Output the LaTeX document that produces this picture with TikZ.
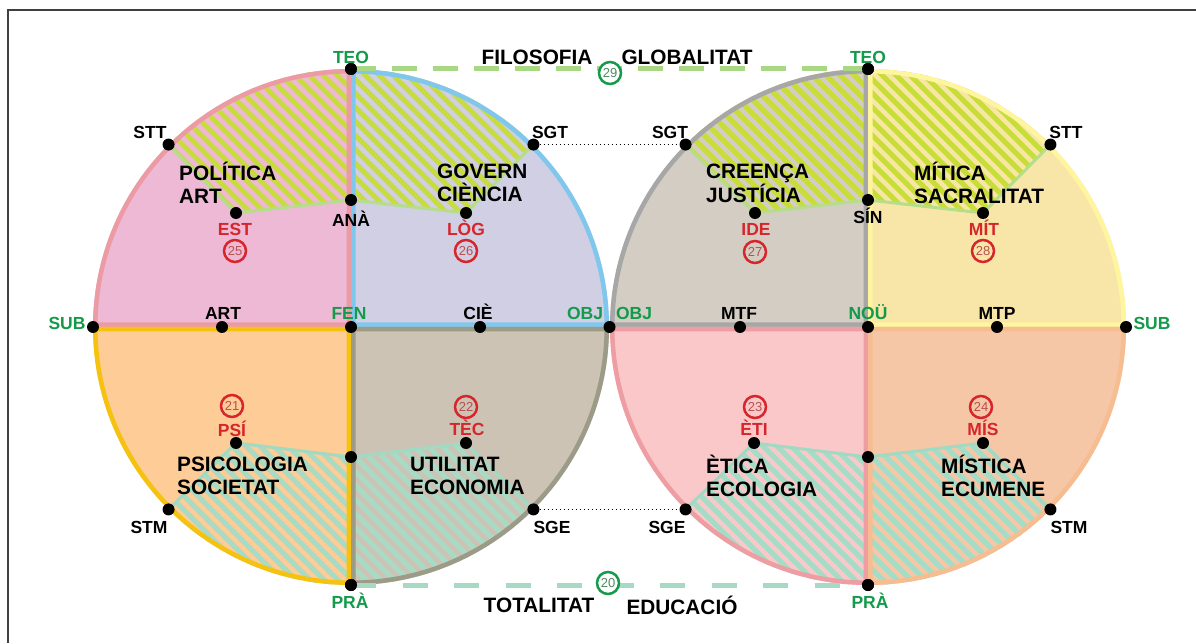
\documentclass[tikz,border=0pt]{standalone}
\usepackage{fontspec}
\setmainfont{Liberation Sans}
\usetikzlibrary{calc}
\definecolor{fLTL}{HTML}{EDB9D5}\definecolor{bLTL}{HTML}{EC9BA5}
\definecolor{fLTR}{HTML}{D1CFE3}\definecolor{bLTR}{HTML}{80C7EE}
\definecolor{fLBL}{HTML}{FDCC97}\definecolor{bLBL}{HTML}{F4C20F}
\definecolor{fLBR}{HTML}{CDC3B5}\definecolor{bLBR}{HTML}{9B9B87}
\definecolor{fRTL}{HTML}{D4CDC4}\definecolor{bRTL}{HTML}{A7A7A7}
\definecolor{fRTR}{HTML}{F8E6A8}\definecolor{bRTR}{HTML}{FFF59E}
\definecolor{fRBL}{HTML}{FBC8C9}\definecolor{bRBL}{HTML}{EE9DA3}
\definecolor{fRBR}{HTML}{F6C7A7}\definecolor{bRBR}{HTML}{F6BD90}
\definecolor{hatchY}{HTML}{C8DC3C}\definecolor{hbY}{HTML}{B6DD8A}
\definecolor{hatchM}{HTML}{A6DBC5}\definecolor{hbM}{HTML}{A2D9C2}
\definecolor{lblgreen}{HTML}{149A4B}\definecolor{lblred}{HTML}{D6262B}
\definecolor{numred}{HTML}{B85050}\definecolor{numgreen}{HTML}{4E8A62}
\definecolor{dashG}{HTML}{A9D884}\definecolor{dashM}{HTML}{A8D9C5}
\definecolor{frame}{HTML}{404040}
\begin{document}
\begin{tikzpicture}[x=1pt,y=1pt,
  dot/.style={circle,fill=black,minimum size=12,inner sep=0},
  lbl/.style={font=\fontsize{17.5}{18}\selectfont\bfseries,inner sep=0},
  glbl/.style={lbl,text=lblgreen},
  rlbl/.style={lbl,text=lblred},
  big/.style={font=\fontsize{20.8}{22.5}\selectfont\bfseries,inner sep=0,align=left,anchor=west},
  title/.style={font=\fontsize{20.8}{22.5}\selectfont\bfseries,inner sep=0},
  numr/.style={circle,draw=lblred,line width=2.5,minimum size=22,inner sep=0,font=\fontsize{13}{13}\selectfont,text=numred},
  numg/.style={circle,draw=lblgreen,fill=white,line width=2.5,minimum size=22,inner sep=0,font=\fontsize{13}{13}\selectfont,text=numgreen},
  topdash/.style={dashG,line width=5,dash pattern=on 25pt off 16pt},
  botdash/.style={dashM,line width=5,dash pattern=on 25pt off 26.5pt},
  dotline/.style={black,line width=1.3,dash pattern=on 1.5pt off 2.5pt}]
\useasboundingbox (0,0) rectangle (1196,643);
\fill[white] (0,0) rectangle (1196,643);
\draw[frame,line width=1.5] (8,0) -- (8,633) -- (1196,633);

\coordinate (C1) at (351,316);
\coordinate (C2) at (868,316);
\coordinate (cEST) at (236,430);
\coordinate (cANA) at (351,443);
\coordinate (cLOG) at (466,430);
\coordinate (cPSI) at (236,200);
\coordinate (cMIDa) at (351,186);
\coordinate (cTEC) at (466,200);
\coordinate (cIDE) at (755,430);
\coordinate (cSIN) at (868,443);
\coordinate (cMIT) at (983,430);
\coordinate (cETI) at (754,200);
\coordinate (cMIDb) at (868,186);
\coordinate (cMIS) at (983,200);

\foreach \cc/\sa/\ea/\fcol/\bcol/\hcol/\hbcol/\hA/\hP/\hQ/\hB in {
 C1/90/180/fLTL/bLTL/hatchY/hbY/135/cEST/cANA/90,
 C1/0/90/fLTR/bLTR/hatchY/hbY/90/cANA/cLOG/45,
 C1/180/270/fLBL/bLBL/hatchM/hbM/225/cPSI/cMIDa/270,
 C1/270/360/fLBR/bLBR/hatchM/hbM/270/cMIDa/cTEC/315,
 C2/90/180/fRTL/bRTL/hatchY/hbY/135/cIDE/cSIN/90,
 C2/0/90/fRTR/bRTR/hatchY/hbY/90/cSIN/cMIT/45,
 C2/180/270/fRBL/bRBL/hatchM/hbM/225/cETI/cMIDb/270,
 C2/270/360/fRBR/bRBR/hatchM/hbM/270/cMIDb/cMIS/315}
{
 \begin{scope}
  \clip (\cc) -- ($(\cc)+(\sa:258)$) arc[start angle=\sa, end angle=\ea, radius=258] -- cycle;
  \fill[\fcol] ($(\cc)+(-262,-262)$) rectangle ($(\cc)+(262,262)$);
  \begin{scope}
   \clip ($(\cc)+(\hA:258)$) -- (\hP) -- (\hQ) -- ($(\cc)+(\hB:258)$) arc[start angle=\hB, end angle=\hA, radius=258] -- cycle;
   \foreach \k in {-28,...,28}
     \draw[\hcol, line width=5] ($(\cc)+(14*\k,0)+(-300,300)$) -- ++(600,-600);
  \end{scope}
  \draw[\hbcol, line width=3, line join=round] ($(\cc)+(\hA:258)$) -- (\hP) -- (\hQ) -- ($(\cc)+(\hB:258)$);
  \draw[\bcol, line width=9] (\cc) -- ($(\cc)+(\sa:258)$) arc[start angle=\sa, end angle=\ea, radius=258] -- cycle;
 \end{scope}
}

% dots
\node[dot] (lTEO) at ($(C1)+(90:258)$) {};
\node[dot] (lSTT) at ($(C1)+(135:258)$) {};
\node[dot] (lSGT) at ($(C1)+(45:258)$) {};
\node[dot] (lSUB) at ($(C1)+(180:258)$) {};
\node[dot] (OBJ) at (609.5,316) {};
\node[dot] (lSTM) at ($(C1)+(225:258)$) {};
\node[dot] (lSGE) at ($(C1)+(315:258)$) {};
\node[dot] (lPRA) at ($(C1)+(270:258)$) {};
\node[dot] (FEN) at (C1) {};
\node[dot] (ART) at (222,316) {};
\node[dot] (CIE) at (480,316) {};
\node[dot] (EST) at (cEST) {};
\node[dot] (ANA) at (cANA) {};
\node[dot] (LOG) at (cLOG) {};
\node[dot] (PSI) at (cPSI) {};
\node[dot] (MIDa) at (cMIDa) {};
\node[dot] (TEC) at (cTEC) {};
\node[dot] (rTEO) at ($(C2)+(90:258)$) {};
\node[dot] (rSGT) at ($(C2)+(135:258)$) {};
\node[dot] (rSTT) at ($(C2)+(45:258)$) {};
\node[dot] (rSUB) at ($(C2)+(0:258)$) {};
\node[dot] (rSGE) at ($(C2)+(225:258)$) {};
\node[dot] (rSTM) at ($(C2)+(315:258)$) {};
\node[dot] (rPRA) at ($(C2)+(270:258)$) {};
\node[dot] (NOU) at (C2) {};
\node[dot] (MTF) at (740,316) {};
\node[dot] (MTP) at (997,316) {};
\node[dot] (IDE) at (cIDE) {};
\node[dot] (SIN) at (cSIN) {};
\node[dot] (MIT) at (cMIT) {};
\node[dot] (ETI) at (cETI) {};
\node[dot] (MIDb) at (cMIDb) {};
\node[dot] (MIS) at (cMIS) {};

% connectors
\draw[topdash] (lTEO.center) -- (rTEO.center);
\draw[botdash] (lPRA.center) -- (rPRA.center);
\draw[dotline] (lSGT) -- (rSGT);
\draw[dotline] (lSGE) -- (rSGE);
% end dots kept on top of the dashed lines
\node[dot] at (lTEO) {};
\node[dot] at (rTEO) {};
\node[dot] at (lPRA) {};
\node[dot] at (rPRA) {};

\node[numg] (n29) at (610,570) {29};
\node[numg] (n20) at (608,60) {20};

% labels
\node[glbl] (tTEOl) at (351,586) {TEO};
\node[glbl] (tTEOr) at (868,586) {TEO};
\node[lbl] (tSTTl) at (150,511) {STT};
\node[lbl] (tSGTl) at (550,511) {SGT};
\node[lbl] (tSGTr) at (670,511) {SGT};
\node[lbl] (tSTTr) at (1066,511) {STT};
\node[lbl] (tANA) at (351,424) {ANÀ};
\node[lbl] (tSIN) at (868,427) {SÍN};
\node[rlbl] (tEST) at (235,414) {EST};
\node[rlbl] (tLOG) at (466,415) {LÒG};
\node[rlbl] (tIDE) at (756,414) {IDE};
\node[rlbl] (tMIT) at (984,415) {MÍT};
\node[numr] (n25) at (235,392) {25};
\node[numr] (n26) at (466,392) {26};
\node[numr] (n27) at (755,391) {27};
\node[numr] (n28) at (983,392) {28};
\node[glbl] (tSUBl) at (67,320) {SUB};
\node[lbl] (tART) at (223,330) {ART};
\node[glbl] (tFEN) at (349,330) {FEN};
\node[lbl] (tCIE) at (478,331) {CIÈ};
\node[glbl] (tOBJl) at (585,330) {OBJ};
\node[glbl] (tOBJr) at (634,330) {OBJ};
\node[lbl] (tMTF) at (739,330) {MTF};
\node[glbl] (tNOU) at (868,331) {NOÜ};
\node[lbl] (tMTP) at (997,330) {MTP};
\node[glbl] (tSUBr) at (1152,320) {SUB};
\node[numr] (n21) at (232,237) {21};
\node[numr] (n22) at (466,236) {22};
\node[numr] (n23) at (755,236) {23};
\node[numr] (n24) at (981,236) {24};
\node[rlbl] (tPSI) at (232,214) {PSÍ};
\node[rlbl] (tTEC) at (467,215) {TÈC};
\node[rlbl] (tETI) at (754,215) {ÈTI};
\node[rlbl] (tMIS) at (983,215) {MÍS};
\node[lbl] (tSTMl) at (149,116) {STM};
\node[lbl] (tSGEl) at (552,116) {SGE};
\node[lbl] (tSGEr) at (667,116) {SGE};
\node[lbl] (tSTMr) at (1069,116) {STM};
\node[glbl] (tPRAl) at (350,42) {PRÀ};
\node[glbl] (tPRAr) at (870,42) {PRÀ};

\node[title] (tFIL) at (537,586) {FILOSOFIA};
\node[title] (tGLO) at (687,586) {GLOBALITAT};
\node[title] (tTOT) at (539,38) {TOTALITAT};
\node[title] (tEDU) at (682,38) {EDUCACIÓ};

\node[big] (bPOL) at (179,460) {POLÍTICA\\ART};
\node[big] (bGOV) at (437,460) {GOVERN\\CIÈNCIA};
\node[big] (bCRE) at (706,460) {CREENÇA\\JUSTÍCIA};
\node[big] (bMIT) at (914,460) {MÍTICA\\SACRALITAT};
\node[big] (bPSI) at (177,167) {PSICOLOGIA\\SOCIETAT};
\node[big] (bUTI) at (410,167) {UTILITAT\\ECONOMIA};
\node[big] (bETI) at (706,167) {ÈTICA\\ECOLOGIA};
\node[big] (bMIS) at (941,167) {MÍSTICA\\ECUMENE};
\end{tikzpicture}
\end{document}
